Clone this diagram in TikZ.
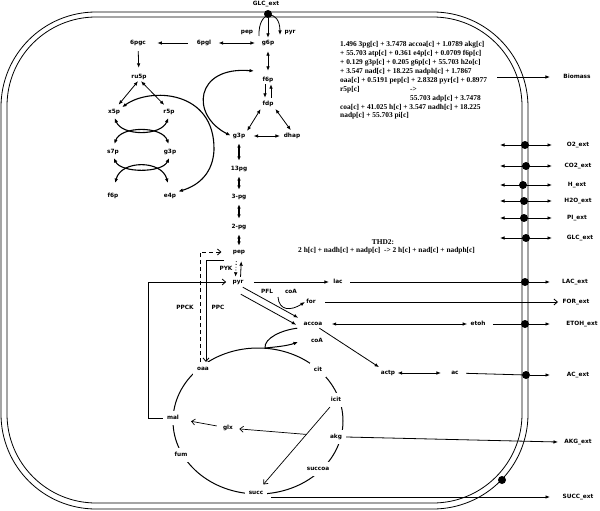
\documentclass[tikz,border=0pt]{standalone}
\usepackage{fontspec}
\usetikzlibrary{arrows.meta,calc}
\newfontfamily\lblfam{DejaVu Sans}
\newfontfamily\eqfam{Liberation Serif}
\newcommand{\lblfont}{\lblfam\bfseries\fontsize{5.8pt}{7pt}\selectfont}
\newcommand{\eqfont}{\eqfam\bfseries\fontsize{7.4pt}{8.9pt}\selectfont}
\tikzset{
  >={Latex[length=4.5pt,width=3.6pt]},
  lbl/.style={font=\lblfont, inner sep=1.2pt, text height=4.4pt, text depth=1.2pt},
  tca/.style={lbl, fill=white, inner sep=4pt},
  eqtxt/.style={font=\eqfont, inner sep=0pt, anchor=west, text height=5pt, text depth=1.7pt},
  con/.style={line width=0.8pt},
  arr/.style={con, ->},
  darr/.style={con, <->},
  barr/.style={line width=1.1pt, <->},
  carr/.style={line width=1.1pt, <->},
  oarr/.style={line width=0.7pt, -{Straight Barb[length=3.5pt,width=6pt]}},
  memb/.style={line width=0.8pt},
  dot/.style={circle, fill=black, inner sep=0pt, minimum size=8pt},
}
\begin{document}
\begin{tikzpicture}[x=1pt,y=-1pt]
\useasboundingbox (0,0) rectangle (600,511);
% membranes
\draw[memb, rounded corners=95pt] (1,12) rectangle (528,509);
\draw[memb, rounded corners=89pt] (7,17) rectangle (522,503);

% ---- nodes: upper glycolysis / PPP
\node[lbl] (glcT) at (266,4) {GLC\_ext};
\node[dot] (dglc) at (268,14) {};
\node[lbl] (pepT) at (247,32) {pep};
\node[lbl] (pyrT) at (290,32) {pyr};
\node[lbl] (g6p) at (268,43) {g6p};
\node[lbl] (pgl) at (204,43) {6pgl};
\node[lbl] (pgc) at (138,43) {6pgc};
\node[lbl] (ru5p) at (139,77) {ru5p};
\node[lbl] (f6p) at (268,80) {f6p};
\node[lbl] (fdp) at (268,104) {fdp};
\node[lbl] (g3p) at (239,136) {g3p};
\node[lbl] (dhap) at (292,136) {dhap};
\node[lbl] (pg13) at (239,169) {13pg};
\node[lbl] (pg3) at (239,197) {3-pg};
\node[lbl] (pg2) at (239,227) {2-pg};
\node[lbl] (pep) at (239,252) {pep};
\node[lbl] (pyr) at (238,282) {pyr};
\node[lbl] (x5p) at (114,112) {x5p};
\node[lbl] (r5p) at (169,112) {r5p};
\node[lbl] (s7p) at (113,152) {s7p};
\node[lbl] (g3pb) at (170,152) {g3p};
\node[lbl] (f6pb) at (113,196) {f6p};
\node[lbl] (e4p) at (170,196) {e4p};

% ---- biomass equation
\node[eqtxt] (eq1) at (340,45) {1.496 3pg[c] + 3.7478 accoa[c] + 1.0789 akg[c]};
\node[eqtxt] (eq2) at (340,54) {+ 55.703 atp[c] + 0.361 e4p[c] + 0.0709 f6p[c]};
\node[eqtxt] (eq3) at (340,63) {+ 0.129 g3p[c] + 0.205 g6p[c] + 55.703 h2o[c]};
\node[eqtxt] (eq4) at (340,72) {+ 3.547 nad[c] + 18.225 nadph[c] + 1.7867};
\node[eqtxt] (eq5) at (340,80.5) {oaa[c] + 0.5191 pep[c] + 2.8328 pyr[c] + 0.8977};
\node[eqtxt] (eq6) at (340,89.5) {r5p[c]};
\node[eqtxt] (eq6b) at (410,89.5) {->};
\node[eqtxt] (eq7) at (410,99) {55.703 adp[c] + 3.7478};
\node[eqtxt] (eq8) at (340,107.5) {coa[c] + 41.025 h[c] + 3.547 nadh[c] + 18.225};
\node[eqtxt] (eq9) at (340,116) {nadp[c] + 55.703 pi[c]};
\node[lbl] (bio) at (577,77) {Biomass};
\coordinate (bmS) at (497,77);

% ---- THD2
\node[eqtxt, anchor=center] (thd) at (383,243) {THD2:};
\node[eqtxt] (thdeq) at (298,251) {2 h[c] + nadh[c] + nadp[c] \ -> 2 h[c] + nad[c] + nadph[c]};

% ---- exchange rows
\foreach \n/\yy/\dx/\lx/\t in {Ot/145/525/578/O2\_ext, COt/166/526/578/CO2\_ext, Hx/185/523/577/H\_ext, HtO/201/524/578/H2O\_ext, PIx/218/524/577/PI\_ext, GLCx/238/526/580/GLC\_ext}{
  \coordinate (t\n) at (500,\yy);
  \coordinate (h\n) at (552,\yy);
  \node[dot] (d\n) at (\dx,\yy) {};
  \node[lbl] (x\n) at (\lx,\yy) {\t};
  \draw[darr] (t\n) -- (h\n);
}

% ---- lower nodes
\node[lbl] (PPCK) at (185,308) {PPCK};
\node[lbl] (PPC) at (218,308) {PPC};
\node[lbl] (PYK) at (226,269) {PYK};
\node[lbl] (PFL) at (267,292) {PFL};
\node[lbl] (coA1) at (291,292) {coA};
\node[lbl] (lac) at (338,282) {lac};
\node[lbl] (form) at (311,302) {for};
\node[lbl] (accoa) at (313,324) {accoa};
\node[lbl] (etoh) at (478,324) {etoh};
\node[lbl] (coA2) at (317,341) {coA};
\node[lbl] (actp) at (388,373) {actp};
\node[lbl] (ac) at (455,373) {ac};

\node[dot] (dLAC) at (525,282) {};
\node[dot] (dETOH) at (525,324) {};
\node[dot] (dAC) at (526,375) {};
\node[dot] (dSUCC) at (502,480) {};
\node[lbl] (LACx) at (575,282) {LAC\_ext};
\node[lbl] (FORx) at (576,302) {FOR\_ext};
\node[lbl] (ETOHx) at (582,324) {ETOH\_ext};
\node[lbl] (ACx) at (578,375) {AC\_ext};
\node[lbl] (AKGx) at (578,442) {AKG\_ext};
\node[lbl] (SUCCx) at (578,497) {SUCC\_ext};
\coordinate (hLAC) at (550,282);
\coordinate (hFOR) at (558,302);
\coordinate (hETOH) at (550,324);
\coordinate (hAC) at (550,375);
\coordinate (hAKG) at (558,442);
\coordinate (hSUCC) at (550,497);

% ---- TCA cycle
\draw[line width=1pt] (258,421) ellipse [x radius=85pt, y radius=73pt];
\node[tca] (oaa) at (203,369) {oaa};
\node[tca] (cit) at (318,370) {cit};
\node[tca] (icit) at (336,400) {icit};
\node[tca] (akg) at (336,437) {akg};
\node[tca] (succoa) at (318,469) {succoa};
\node[tca] (succ) at (256,493) {succ};
\node[tca] (fum) at (181,455) {fum};
\node[tca] (mal) at (173,418) {mal};
\node[lbl] (glx) at (228,428) {glx};

% ================= connectors
% glucose uptake
\coordinate (cpep) at (259,36);
\coordinate (cpyr) at (280,35);
\draw[arr] (cpep) .. controls (258,9) and (280,9) .. (cpyr);
\draw[arr, shorten >=1pt] (dglc) -- (g6p);

% PPP
\draw[arr, shorten <=7.5pt, shorten >=10pt] (pgl) -- (pgc);
\draw[darr, shorten <=6pt, shorten >=5.5pt] (pgl) -- (g6p);
\draw[arr, shorten <=4pt, shorten >=5pt] (pgc) -- (ru5p);
\draw[darr, shorten >=4pt] ([xshift=-1pt]ru5p.south) -- ([xshift=2pt]x5p.north);
\draw[darr, shorten >=4pt] ([xshift=2pt]ru5p.south) -- ([xshift=-2pt]r5p.north);
\draw[carr, shorten <=2pt, shorten >=2pt] (x5p.south) .. controls +(8,20) and +(-8,20) .. (r5p.south);
\draw[carr, shorten <=4pt, shorten >=4pt] (s7p.north) .. controls +(8,-22) and +(-8,-22) .. (g3pb.north);
\draw[carr, shorten <=2pt, shorten >=2pt] (s7p.south) .. controls +(8,17) and +(-8,17) .. (g3pb.south);
\draw[carr, shorten <=9pt, shorten >=9pt] (f6pb.north) .. controls +(8,-32) and +(-8,-32) .. (e4p.north);
\draw[carr, shorten <=1pt, shorten >=1pt] (x5p.north east) .. controls (150,87) and (215,90) .. (214,150) .. controls (213,172) and (200,185) .. (e4p.north east);
\coordinate (f6pin) at (254,71);
\draw[carr, shorten >=1pt] (f6pin) .. controls (195,66) and (190,115) .. (g3p.west);

% glycolysis
\draw[darr, shorten <=4pt, shorten >=5pt] (g6p) -- (f6p);
\draw[arr, shorten >=2pt] ([xshift=-3pt]f6p.south) -- ([xshift=-3pt]fdp.north);
\draw[arr, shorten <=2pt] ([xshift=3pt]fdp.north) -- ([xshift=3pt]f6p.south);
\draw[darr, shorten <=1pt, shorten >=1pt] (fdp.south west) -- (g3p.north east);
\draw[darr, shorten <=1pt, shorten >=2pt] (fdp.south east) -- (dhap.north);
\draw[darr, shorten <=7pt, shorten >=2.5pt] (g3p) -- (dhap);
\draw[barr, shorten <=3pt, shorten >=4pt] (g3p.south) -- (pg13.north);
\draw[barr, shorten <=3pt, shorten >=3pt] (pg13.south) -- (pg3.north);
\draw[barr, shorten <=3pt, shorten >=4pt] (pg3.south) -- (pg2.north);
\draw[barr, shorten <=3pt, shorten >=2pt] (pg2.south) -- (pep.north);

% PYK
\draw[arr, dotted, shorten <=5pt, shorten >=1pt] ([xshift=-2.5pt]pep.south) -- ([xshift=-2.5pt]pyr.north);
\draw[arr, shorten <=1pt, shorten >=5pt] ([xshift=2.5pt]pyr.north) -- ([xshift=2.5pt]pep.south);

% PPCK / PPC / malic enzyme
\draw[oarr, line width=0.8pt, dash pattern=on 4pt off 3pt] ([xshift=-3pt]oaa.north) |- ([xshift=-10pt]pep.west);
\coordinate (ppcS) at (224,260);
\draw[oarr, line width=0.8pt] (ppcS) -| ([xshift=3pt]oaa.north);
\coordinate (mx) at (148,0);
\draw[oarr, line width=0.8pt, shorten >=5pt] (mal.west) -- (mal.west -| mx) |- (pyr.west);

% pyruvate branches
\draw[arr, shorten <=9pt, shorten >=3pt] (pyr) -- (lac);
\draw[con, shorten <=6pt] (lac) -- (dLAC);
\draw[arr] (dLAC) -- (hLAC);
\draw[arr] ([shift={(-2,1)}]pyr.south east) -- ([shift={(-4,-2)}]accoa.north west);
\draw[arr] ([shift={(-4,8)}]pyr.south east) -- ([shift={(-6,5)}]accoa.north west);
\coordinate (pflc) at (278,297);
\draw[arr] (pflc) .. controls (279,311) and (291,311) .. (form.west);
\draw[oarr, line width=0.8pt, shorten <=8pt] (form.east) -- (hFOR);

% acetyl-CoA branches
\draw[darr, shorten <=8pt, shorten >=2pt] (accoa) -- (etoh);
\draw[con, shorten <=6pt] (etoh) -- (dETOH);
\draw[arr] (dETOH) -- (hETOH);
\draw[arr, shorten >=3pt] (accoa) -- (actp);
\draw[darr, shorten <=1pt, shorten >=9pt] (actp) -- (ac);
\draw[con, shorten <=6pt] (ac) -- (dAC);
\draw[arr] (dAC) -- (hAC);

% citrate synthase
\coordinate (csj) at (265,348);
\coordinate (csh) at (298,342);
\draw[line width=1pt] ([xshift=-5pt]accoa.south west) .. controls (282,330) and (264,338) .. (csj);
\draw[arr, line width=1pt] (csj) .. controls (275,347) and (287,346) .. (csh);

% glyoxylate shunt
\coordinate (gb) at ($(icit)!0.37!(succ)$);
\draw[oarr, shorten >=2pt] (icit) -- (succ);
\draw[oarr, shorten >=5pt] (gb) -- (glx);
\draw[oarr, shorten <=5pt, shorten >=8pt] (glx) -- (mal);

% TCA exports
\draw[arr] (akg.east) -- (hAKG);
\draw[arr, shorten <=4pt] ([yshift=-4pt]succ.east) -- (hSUCC);

% biomass
\draw[arr, shorten >=12pt] (bmS) -- (bio);
\end{tikzpicture}
\end{document}
